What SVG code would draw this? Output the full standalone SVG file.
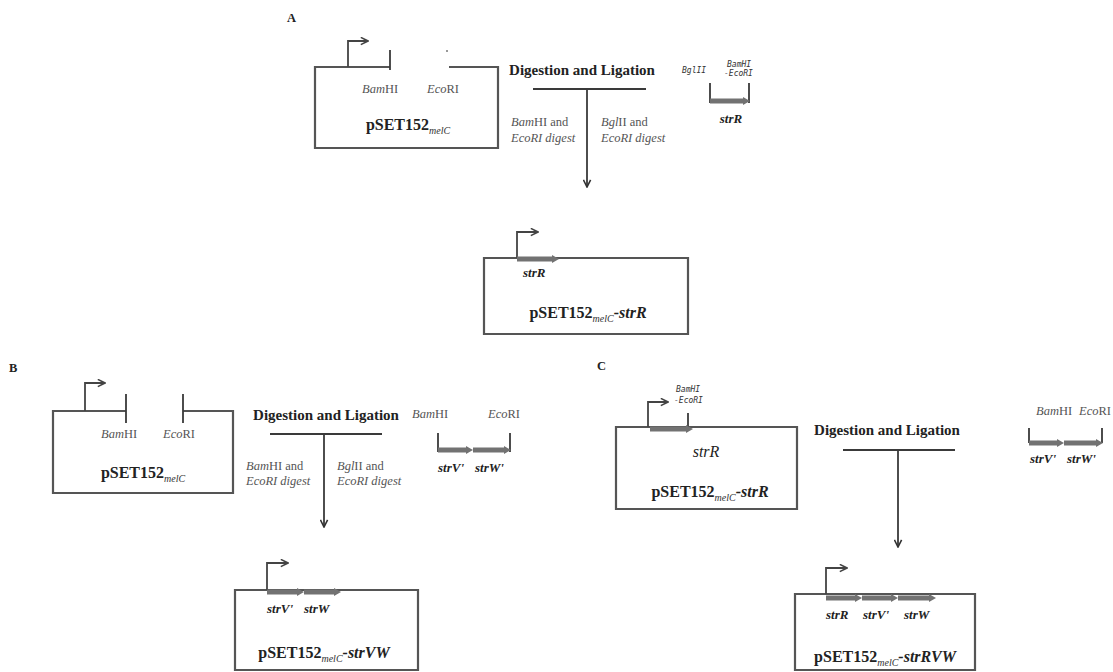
<svg xmlns="http://www.w3.org/2000/svg" width="1113" height="672" viewBox="0 0 1113 672">
<style>
text{font-family:"Liberation Serif","Times New Roman",serif;fill:#222}
.lbl{font-weight:bold;font-size:12.5px}
.box{fill:none;stroke:#555;stroke-width:2.2}
.ln{fill:none;stroke:#3a3a3a;stroke-width:1.8}
.prom{fill:none;stroke:#444;stroke-width:1.8;marker-end:url(#chev)}
.gene{fill:#727272}
.dig{font-weight:bold;font-size:15px}
.enz{font-size:12.5px;fill:#555}
.pix{font-family:"DejaVu Sans Mono",monospace;font-size:8px;font-style:italic;fill:#333}
.plas{font-weight:bold;font-size:16px;text-anchor:middle}
.sub{font-size:10px;font-style:italic;font-weight:normal;fill:#333}
.g{font-weight:bold;font-style:italic;font-size:13px}
.it{font-style:italic}
</style>
<defs>
<marker id="chev" viewBox="0 0 10 10" refX="9" refY="5" markerWidth="5" markerHeight="5" orient="auto" markerUnits="strokeWidth">
<path d="M1,1 L9,5 L1,9" fill="none" stroke="#444" stroke-width="1.8"/>
</marker>
<marker id="down" viewBox="0 0 10 10" refX="9" refY="5" markerWidth="5" markerHeight="5" orient="auto" markerUnits="strokeWidth">
<path d="M1,1 L9,5 L1,9" fill="none" stroke="#333" stroke-width="1.8"/>
</marker>
</defs>

<text x="287" y="22" class="lbl">A</text>
<text x="9" y="372" class="lbl">B</text>
<text x="597" y="370" class="lbl">C</text>

<!-- Panel A -->
<g id="A-vector">
<path class="box" d="M390,67 H315 V148 H498 V67 H449"/>
<path class="ln" d="M390,50 V70"/>
<circle cx="447" cy="51" r="1" fill="#777"/>
<path class="prom" d="M348,67 V41 H368"/>
<text x="362" y="93" class="enz"><tspan class="it">Bam</tspan>HI</text>
<text x="427" y="93" class="enz"><tspan class="it">Eco</tspan>RI</text>
<text x="408" y="130" class="plas">pSET152<tspan class="sub" dy="4">melC</tspan></text>
</g>
<g id="A-step">
<text x="582" y="75" class="dig" text-anchor="middle" font-size="14">Digestion and Ligation</text>
<text x="511" y="126" class="enz"><tspan class="it">Bam</tspan>HI and</text>
<text x="511" y="142" class="enz it">EcoRI digest</text>
<text x="601" y="126" class="enz"><tspan class="it">Bgl</tspan>II and</text>
<text x="601" y="142" class="enz it">EcoRI digest</text>
</g>
<g id="A-insert">
<text x="682" y="73" class="pix">BglII</text>
<text x="727" y="67" class="pix">BamHI</text>
<text x="724" y="76" class="pix">-EcoRI</text>
<path class="ln" d="M710,83 V103 M749,83 V103"/>
<path class="gene" d="M710,98.5 H743 V97 L750,101 L743,105 V103.5 H710 Z"/>
<text x="731" y="123" class="g" text-anchor="middle" font-size="15">strR</text>
</g>
<g id="A-result">
<path class="box" d="M484,258 H688 V334 H484 Z"/>
<path class="prom" d="M517,258 V232 H538"/>
<path class="gene" d="M517,256.5 H552 V255 L559,259 L552,263 V261.5 H517 Z"/>
<text x="523" y="277" class="g" font-size="14">strR</text>
<text x="588" y="318" class="plas">pSET152<tspan class="sub" dy="4">melC</tspan><tspan dy="-4" font-style="italic">-strR</tspan></text>
</g>

<!-- Panel B -->
<g id="B-vector">
<path class="box" d="M126,411 H53 V493 H233 V411 H183"/>
<path class="ln" d="M126,394 V423 M183,394 V423"/>
<path class="prom" d="M85,411 V383 H105"/>
<text x="101" y="438" class="enz"><tspan class="it">Bam</tspan>HI</text>
<text x="163" y="438" class="enz"><tspan class="it">Eco</tspan>RI</text>
<text x="143" y="478" class="plas">pSET152<tspan class="sub" dy="4">melC</tspan></text>
</g>
<g id="B-step">
<text x="326" y="420" class="dig" text-anchor="middle">Digestion and Ligation</text>
<text x="246" y="470" class="enz"><tspan class="it">Bam</tspan>HI and</text>
<text x="246" y="485" class="enz it">EcoRI digest</text>
<text x="337" y="470" class="enz"><tspan class="it">Bgl</tspan>II and</text>
<text x="337" y="485" class="enz it">EcoRI digest</text>
</g>
<g id="B-insert">
<text x="412" y="418" class="enz"><tspan class="it">Bam</tspan>HI</text>
<text x="488" y="418" class="enz"><tspan class="it">Eco</tspan>RI</text>
<path class="ln" d="M438,433 V452 M510,433 V452"/>
<path class="gene" d="M438,447.5 H466 V446 L473,450 L466,454 V452.5 H438 Z"/>
<path class="gene" d="M473,447.5 H504 V446 L511,450 L504,454 V452.5 H473 Z"/>
<text x="438" y="472" class="g" font-size="11">strV'</text>
<text x="475" y="472" class="g" font-size="11">strW'</text>
</g>
<g id="B-result">
<path class="box" d="M235,590 H418 V670 H235 Z"/>
<path class="prom" d="M267,590 V563 H288"/>
<path class="gene" d="M267,589.5 H297 V588 L304,592 L297,596 V594.5 H267 Z"/>
<path class="gene" d="M304,589.5 H334 V588 L341,592 L334,596 V594.5 H304 Z"/>
<text x="267" y="613" class="g">strV'</text>
<text x="304" y="613" class="g">strW</text>
<text x="324" y="658" class="plas">pSET152<tspan class="sub" dy="4">melC</tspan><tspan dy="-4" font-style="italic">-strVW</tspan></text>
</g>

<!-- Panel C -->
<g id="C-vector">
<path class="box" d="M616,427 H797 V509 H616 Z"/>
<path class="ln" d="M688,413 V427"/>
<path class="prom" d="M648,427 V402 H668"/>
<path class="gene" d="M650,426.5 H686 V425 L693,429 L686,433 V431.5 H650 Z"/>
<text x="676" y="392" class="pix">BamHI</text>
<text x="674" y="403" class="pix">-EcoRI</text>
<text x="706" y="457" class="it" font-size="16" text-anchor="middle">strR</text>
<text x="710" y="497" class="plas">pSET152<tspan class="sub" dy="4">melC</tspan><tspan dy="-4" font-style="italic">-strR</tspan></text>
</g>
<g id="C-step">
<text x="887" y="435" class="dig" text-anchor="middle">Digestion and Ligation</text>
</g>
<g id="C-insert">
<text x="1036" y="415" class="enz"><tspan class="it">Bam</tspan>HI</text>
<text x="1079" y="415" class="enz"><tspan class="it">Eco</tspan>RI</text>
<path class="ln" d="M1029,428 V443 M1102,428 V443"/>
<path class="gene" d="M1029,440.5 H1057 V439 L1064,443 L1057,447 V445.5 H1029 Z"/>
<path class="gene" d="M1064,440.5 H1096 V439 L1103,443 L1096,447 V445.5 H1064 Z"/>
<text x="1030" y="463" class="g" font-size="10">strV'</text>
<text x="1067" y="463" class="g" font-size="10">strW'</text>
</g>
<g id="C-result">
<path class="box" d="M795,594 H975 V670 H795 Z"/>
<path class="prom" d="M826,594 V568 H847"/>
<path class="gene" d="M826,595.5 H855 V594 L862,598 L855,602 V600.5 H826 Z"/>
<path class="gene" d="M862,595.5 H891 V594 L898,598 L891,602 V600.5 H862 Z"/>
<path class="gene" d="M898,595.5 H929 V594 L936,598 L929,602 V600.5 H898 Z"/>
<text x="826" y="619" class="g">strR</text>
<text x="863" y="619" class="g">strV'</text>
<text x="904" y="619" class="g">strW</text>
<text x="885" y="662" class="plas">pSET152<tspan class="sub" dy="4">melC</tspan><tspan dy="-4" font-style="italic">-strRVW</tspan></text>
</g>

<g id="connectors">
<path class="ln" d="M533,89 H646"/>
<path class="ln" d="M587,89 V187" marker-end="url(#down)"/>
<path class="ln" d="M270,434 H382"/>
<path class="ln" d="M324,434 V527" marker-end="url(#down)"/>
<path class="ln" d="M843,450 H955"/>
<path class="ln" d="M898,450 V547" marker-end="url(#down)"/>
</g>
</svg>
